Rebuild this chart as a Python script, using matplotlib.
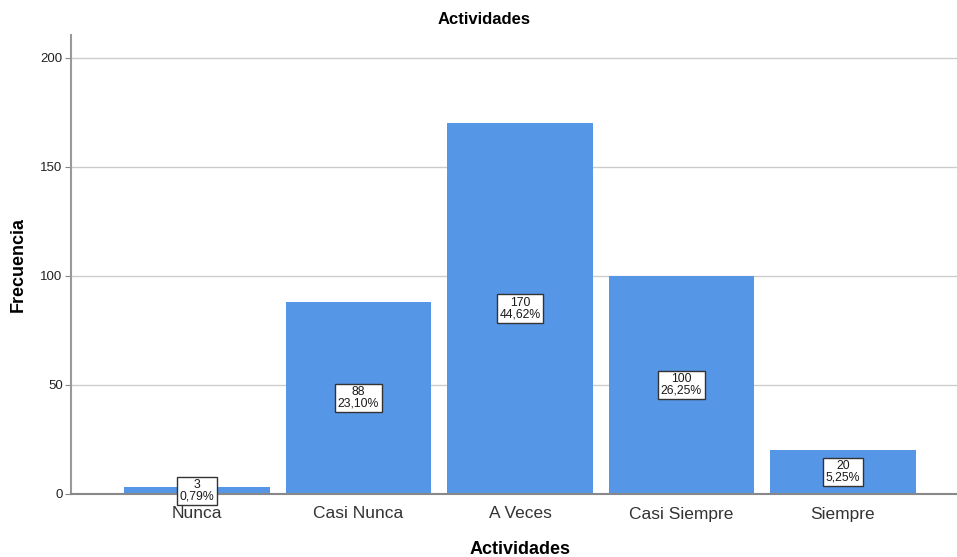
import matplotlib
matplotlib.use('Agg')
import matplotlib.pyplot as plt

plt.rcParams['font.family'] = ['Liberation Sans', 'DejaVu Sans']

categorias = ['Nunca', 'Casi Nunca', 'A Veces', 'Casi Siempre', 'Siempre']
frecuencias = [3, 88, 170, 100, 20]
porcentajes = ['0,79%', '23,10%', '44,62%', '26,25%', '5,25%']

fig = plt.figure(figsize=(9.57, 5.57), dpi=100)
ax = fig.add_axes([71 / 957, 1 - 494 / 557, 1 - 71 / 957, (494 - 35) / 557])

x = list(range(len(categorias)))
ax.bar(x, frecuencias, width=0.9, color='#5596E6', zorder=2)

for xi, f, p in zip(x, frecuencias, porcentajes):
    ax.text(xi, f / 2, f'{f}\n{p}', ha='center', va='center', fontsize=8.8,
            linespacing=0.95, color='#1a1a1a', zorder=5, clip_on=False,
            bbox=dict(boxstyle='square,pad=0.2', fc='white', ec='#333333', lw=1))

ax.set_xlim(-0.78, 4.706)
ax.set_ylim(0, 210.5)
ax.set_yticks([0, 50, 100, 150, 200])
ax.set_xticks(x)
ax.set_xticklabels(categorias, fontsize=12.5, color='#333333')
ax.tick_params(axis='x', length=0, pad=9)
ax.tick_params(axis='y', length=4, pad=2, color='#888888', labelsize=9.5, labelcolor='#222222')
ax.grid(axis='y', color='#cccccc', lw=1, zorder=0)

for s in ['top', 'right']:
    ax.spines[s].set_visible(False)
ax.spines['left'].set_color('#999999')
ax.spines['left'].set_linewidth(1.5)
ax.spines['bottom'].set_color('#888888')
ax.spines['bottom'].set_linewidth(1.5)
ax.spines['bottom'].set_zorder(3)

fig.text(484 / 957, 1 - 19 / 557, 'Actividades', ha='center', va='center',
         fontsize=12, fontweight='bold')
fig.text(520 / 957, 1 - 549 / 557, 'Actividades', ha='center', va='center',
         fontsize=13, fontweight='bold')
fig.text(18 / 957, 1 - 265 / 557, 'Frecuencia', ha='center', va='center',
         fontsize=13, fontweight='bold', rotation=90)

fig.savefig('out.png', dpi=100)
